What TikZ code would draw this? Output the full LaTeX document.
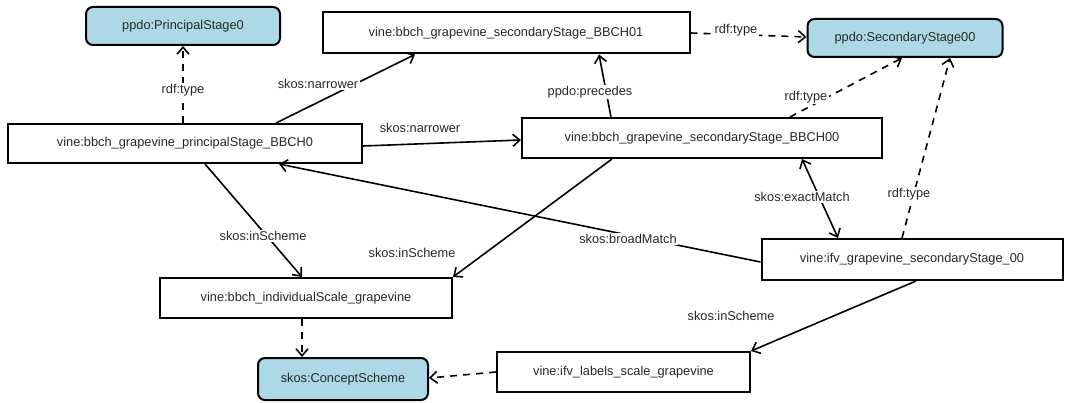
\documentclass[tikz,border=0pt]{standalone}
\usepackage{fontspec}
\setmainfont{Liberation Sans}
\usetikzlibrary{arrows.meta,calc}
\definecolor{nodeblue}{RGB}{173,216,230}
\definecolor{txtgray}{RGB}{40,40,40}
\begin{document}
\begin{tikzpicture}[x=1pt,y=-1pt,
  every node/.style={font=\fontsize{12.8}{14}\selectfont, text=txtgray},
  inst/.style={draw=black, line width=2pt, fill=white, rectangle, inner sep=0pt},
  cls/.style={draw=black, line width=2pt, fill=nodeblue, rectangle, rounded corners=7pt, inner sep=0pt},
  tipV/.tip={Straight Barb[length=7pt,width=12pt]},
  rel/.style={draw=black, line width=1.6pt, -tipV},
  typ/.style={rel, dash pattern=on 7pt off 6pt},
  lbl/.style={fill=white, inner sep=1.5pt}
]
\useasboundingbox (0,0) rectangle (1065,403);

% nodes
\node[cls,  minimum width=194pt, minimum height=38pt] (p0)  at (183,26)    {ppdo:PrincipalStage0};
\node[inst, minimum width=367pt, minimum height=41pt] (s01) at (506,33)    {vine:bbch\_grapevine\_secondaryStage\_BBCH01};
\node[cls,  minimum width=195pt, minimum height=38pt] (s00) at (905,38)    {ppdo:SecondaryStage00};
\node[inst, minimum width=354pt, minimum height=39pt] (b0)  at (185,143.5) {vine:bbch\_grapevine\_principalStage\_BBCH0};
\node[inst, minimum width=360pt, minimum height=40pt] (b00) at (702,138)   {vine:bbch\_grapevine\_secondaryStage\_BBCH00};
\node[inst, minimum width=301pt, minimum height=41pt] (ifv) at (912,259.5) {vine:ifv\_grapevine\_secondaryStage\_00};
\node[inst, minimum width=292pt, minimum height=40pt] (ind) at (306,298)   {vine:bbch\_individualScale\_grapevine};
\node[cls,  minimum width=170pt, minimum height=42pt] (cs)  at (343,379)   {skos:ConceptScheme};
\node[inst, minimum width=253pt, minimum height=40pt] (lab) at (623.5,372) {vine:ifv\_labels\_scale\_grapevine};

% connectors
\draw[typ] (b0.north -| p0) -- (p0.south);
\draw[rel] ([xshift=91pt]b0.north) -- ([xshift=-91pt]s01.south);
\draw[rel] ([yshift=-2.5pt]b0.east) -- ([yshift=-2pt]b00.west);
\draw[rel] ([xshift=-91pt]b00.north) -- ([xshift=93pt]s01.south);
\draw[typ] (s01.east) -- ([yshift=1pt]s00.west);
\draw[typ] ([xshift=88pt]b00.north) -- ([xshift=-3pt]s00.south);
\draw[typ] ([xshift=-10pt]ifv.north) -- ([xshift=45pt]s00.south);
\draw[rel, tipV-tipV] ([xshift=100pt]b00.south) -- ([xshift=-74pt]ifv.north);
\draw[rel] ([yshift=-2.5pt]ifv.west) -- ([xshift=94pt]b0.south);
\draw[rel] ([xshift=20pt]b0.south) -- ([xshift=-4pt]ind.north);
\draw[rel] ([xshift=-90pt]b00.south) -- (ind.north east);
\draw[rel] ([xshift=4pt]ifv.south) -- (lab.north east);
\draw[typ] ([xshift=-4pt]ind.south) -- ([xshift=-41pt]cs.north);
\draw[typ] (lab.west) -- ([yshift=1pt]cs.east);

% labels
\node[lbl] (l1)  at (183,90)  {rdf:type};
\node[lbl] (l2)  at (318,84)  {skos:narrower};
\node[lbl] (l3)  at (420,128) {skos:narrower};
\node[lbl] (l4)  at (590,92)  {ppdo:precedes};
\node[lbl] (l5)  at (736,30)  {rdf:type};
\node[lbl] (l6)  at (806,97)  {rdf:type};
\node[lbl] (l7)  at (909,194) {rdf:type};
\node[lbl] (l8)  at (802,197) {skos:exactMatch};
\node[lbl] (l9)  at (628,239) {skos:broadMatch};
\node[lbl] (l10) at (263,236) {skos:inScheme};
\node[lbl] (l11) at (412,253) {skos:inScheme};
\node[lbl] (l12) at (731,316) {skos:inScheme};
\end{tikzpicture}
\end{document}
